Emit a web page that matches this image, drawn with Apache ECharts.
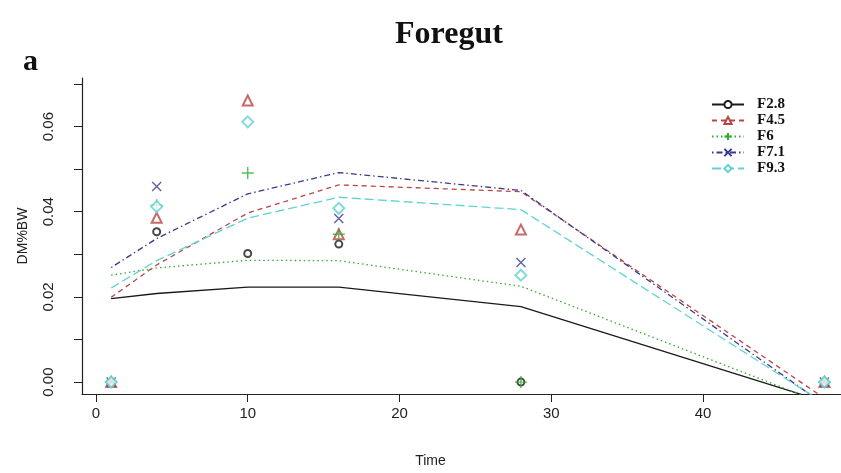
<!DOCTYPE html>
<html>
<head>
<meta charset="utf-8">
<script src="https://cdn.jsdelivr.net/npm/echarts@6/dist/echarts.min.js"></script>
<style>
  html, body { margin: 0; padding: 0; background: #fff; }
  #chart { width: 841px; height: 473px; }
</style>
</head>
<body>
<div id="chart"></div>
<script>
// sampling times
var times = [1, 4, 10, 16, 28, 48];
var xTicks = [0, 10, 20, 30, 40];
var yTicks = [0, 0.01, 0.02, 0.03, 0.04, 0.05, 0.06, 0.07];
var yLabels = [0, 0.02, 0.04, 0.06];

// observed points
var obsF28 = [0, 0.0353, 0.0302, 0.0324, 0, 0];
var obsF45 = [0, 0.0386, 0.0661, 0.0347, 0.0358, 0];
var obsF6 = [0, 0.0415, 0.0491, 0.0347, 0, 0];
var obsF71 = [0, 0.0459, null, 0.0384, 0.0281, 0];
var obsF93 = [0, 0.0412, 0.0611, 0.0408, 0.0251, 0];

// fitted curves
var fitF28 = [0.0196, 0.0208, 0.0223, 0.0223, 0.0177, -0.0046];
var fitF45 = [0.0199, 0.0275, 0.0397, 0.0463, 0.0447, -0.0038];
var fitF6 = [0.0251, 0.0268, 0.0286, 0.0285, 0.0225, -0.0051];
var fitF71 = [0.0269, 0.0337, 0.0442, 0.0492, 0.0450, -0.0053];
var fitF93 = [0.0221, 0.0285, 0.0385, 0.0434, 0.0405, -0.0050];

var plusPath = 'path://M0,5L10,5M5,0L5,10';
var crossPath = 'path://M0,0L10,10M10,0L0,10';

var groups = [
  { name: 'F2.8', obs: obsF28, fit: fitF28, color: '#1a1a1a', symbol: 'emptyCircle', size: 7, dash: 'solid' },
  { name: 'F4.5', obs: obsF45, fit: fitF45, color: '#b94545', symbol: 'emptyTriangle', size: 10, dash: [5, 4] },
  { name: 'F6', obs: obsF6, fit: fitF6, color: '#30ad30', symbol: plusPath, size: 12, dash: [1.5, 3] },
  { name: 'F7.1', obs: obsF71, fit: fitF71, color: '#3b3b8e', symbol: crossPath, size: 9, dash: [1.5, 3, 6, 3] },
  { name: 'F9.3', obs: obsF93, fit: fitF93, color: '#62d2d2', symbol: 'emptyDiamond', size: 11, dash: [9, 4] }
];

function pairs(arr) {
  var out = [];
  for (var i = 0; i < times.length; i++) {
    if (arr[i] !== null) out.push([times[i], arr[i]]);
  }
  return out;
}

var series = [];
groups.forEach(function (g) {
  // fitted line first so the legend takes its icon from it
  series.push({
    name: g.name,
    type: 'line',
    data: pairs(g.fit),
    symbol: g.symbol,
    symbolSize: 7,
    showSymbol: false,
    color: g.color,
    lineStyle: { color: g.color, width: 1.3, type: g.dash },
    itemStyle: { color: g.color, borderColor: g.color, borderWidth: 1.2 },
    clip: true,
    silent: true,
    z: 2
  });
  series.push({
    name: g.name,
    type: 'scatter',
    data: pairs(g.obs),
    symbol: g.symbol,
    symbolSize: g.size,
    itemStyle: { color: g.color, borderColor: g.color, borderWidth: 1.4 },
    z: 3
  });
});

var myChart = echarts.init(document.getElementById('chart'));
var option = {
  animation: false,
  backgroundColor: '#fff',
  title: [
    { text: 'Foregut', left: 390, top: 14,
      textStyle: { fontFamily: 'Liberation Serif', fontWeight: 'bold', fontSize: 32, color: '#111' } },
    { text: 'a', left: 18, top: 42,
      textStyle: { fontFamily: 'Liberation Serif', fontWeight: 'bold', fontSize: 30, color: '#111' } }
  ],
  legend: {
    data: groups.map(function (g) { return g.name; }),
    orient: 'vertical',
    left: 706,
    top: 92,
    itemWidth: 32,
    itemHeight: 9,
    itemGap: 1,
    selectedMode: false,
    textStyle: { fontFamily: 'Liberation Serif', fontWeight: 'bold', fontSize: 15, lineHeight: 15, color: '#111', padding: [0, 0, 0, 8] }
  },
  grid: { left: 82, right: 0, top: 78, bottom: 76 },
  xAxis: {
    type: 'value',
    min: -0.92,
    max: 49.09,
    name: 'Time',
    nameLocation: 'middle',
    nameGap: 60,
    nameTextStyle: { fontFamily: 'Liberation Sans', fontSize: 14, color: '#222', padding: [0, 62, 0, 0] },
    axisLine: { onZero: false, lineStyle: { color: '#222', width: 1.2 } },
    axisTick: { length: 8, customValues: xTicks, lineStyle: { color: '#222' } },
    axisLabel: { customValues: xTicks, margin: 12, fontFamily: 'Liberation Sans', fontSize: 15, color: '#222' },
    splitLine: { show: false }
  },
  yAxis: {
    type: 'value',
    min: -0.0028,
    max: 0.0714,
    name: 'DM%BW',
    nameLocation: 'middle',
    nameRotate: 90,
    nameGap: 52,
    nameTextStyle: { fontFamily: 'Liberation Sans', fontSize: 14, color: '#222' },
    axisLine: { show: true, onZero: false, lineStyle: { color: '#222', width: 1.2 } },
    axisTick: { length: 8, customValues: yTicks, lineStyle: { color: '#222' } },
    axisLabel: {
      customValues: yLabels,
      rotate: 90,
      margin: 26,
      fontFamily: 'Liberation Sans',
      fontSize: 15,
      color: '#222',
      formatter: function (v) { return v.toFixed(2); }
    },
    splitLine: { show: false }
  },
  series: series
};
myChart.setOption(option);
</script>
</body>
</html>
